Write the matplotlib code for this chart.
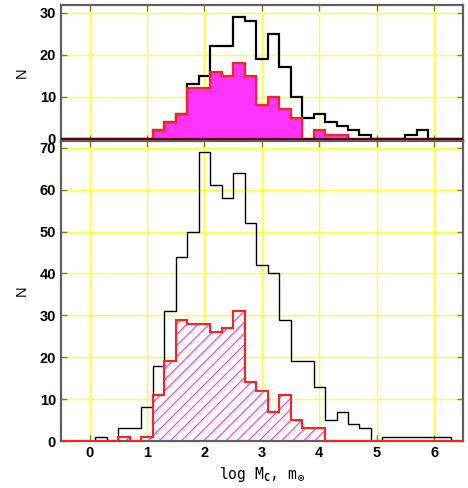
import numpy as np
import matplotlib
matplotlib.use("Agg")
import matplotlib.pyplot as plt
from matplotlib.ticker import MultipleLocator

plt.rcParams.update({
    "font.family": ["Liberation Sans", "DejaVu Sans"],
    "font.weight": "bold",
    "mathtext.fontset": "custom",
    "mathtext.rm": "DejaVu Sans Mono",
    "mathtext.it": "DejaVu Sans Mono",
    "hatch.color": "#ff33ff",
    "hatch.linewidth": 0.8,
})

# bins of 0.2 in log M, left edge of first bin at -0.5
bin_start = -0.5
bin_width = 0.2
n_bins = 35

top_all = [0, 0, 0, 0, 0, 0, 0, 0, 2, 4, 6, 13, 15, 22, 22, 29, 28, 19, 25, 17,
           10, 5, 6, 4, 3, 2, 1, 0, 0, 0, 1, 2, 0, 0, 0]
top_sel = [0, 0, 0, 0, 0, 0, 0, 0, 2, 4, 6, 12, 12, 16, 15, 18, 15, 8, 10, 7,
           5, 0, 2, 1, 1, 0, 0, 0, 0, 0, 0, 0, 0, 0, 0]
bot_all = [0, 0, 0, 1, 0, 3, 3, 8, 18, 31, 44, 50, 69, 61, 58, 64, 52, 42, 40, 29,
           19, 19, 13, 5, 7, 4, 3, 0, 1, 1, 1, 1, 1, 1, 0]
bot_sel = [0, 0, 0, 0, 0, 1, 0, 1, 11, 19, 29, 28, 28, 26, 27, 31, 14, 12, 7, 11,
           5, 3, 3, 0, 0, 0, 0, 0, 0, 0, 0, 0, 0, 0, 0]

edges = bin_start + bin_width * np.arange(n_bins + 1)

MAGENTA = "#ff33ff"
RED = "#ff2020"
GRID = "#ffff33"
SPINE = "#606060"

fig = plt.figure(figsize=(4.68, 4.88), dpi=100)
ax1 = fig.add_axes([0.130, 0.711, 0.859, 0.279])
ax2 = fig.add_axes([0.130, 0.0963, 0.859, 0.6147])


def style(ax):
    ax.set_xlim(-0.5, 6.5)
    ax.xaxis.set_major_locator(MultipleLocator(1))
    ax.yaxis.set_major_locator(MultipleLocator(10))
    ax.grid(True, color=GRID, linewidth=1.0)
    ax.set_axisbelow(True)
    ax.tick_params(direction="in", top=True, right=True, length=4, width=1,
                   color="#888800", labelsize=10.5)
    for s in ax.spines.values():
        s.set_color(SPINE)
        s.set_linewidth(1.6)
    ax.set_ylabel("N", fontsize=10.5, labelpad=8)


# upper panel: solid fill
ax1.stairs(top_sel, edges, fill=True, color=MAGENTA, zorder=2)
ax1.stairs(top_all, edges, color="black", linewidth=1.6, baseline=None, zorder=3)
ax1.stairs(top_sel, edges, color=RED, linewidth=1.6, baseline=None, zorder=4)
ax1.axhline(0, color="#5a0000", linewidth=1.6, zorder=5)
style(ax1)
ax1.set_ylim(-0.55, 31.9)
ax1.tick_params(labelbottom=False)

# lower panel: hatched fill
ax2.stairs(bot_sel, edges, fill=True, facecolor="white", edgecolor=MAGENTA,
           hatch="///", linewidth=0, zorder=2)
ax2.stairs(bot_all, edges, color="black", linewidth=1.0, baseline=None, zorder=3)
ax2.stairs(bot_sel, edges, color=RED, linewidth=1.5, baseline=None, zorder=4)
style(ax2)
ax2.set_ylim(0, 71.6)
ax2.set_xlabel(r"log M$_{\rm C}$, m$_\odot$", family="DejaVu Sans Mono",
               fontweight="normal", fontsize=10.5, labelpad=4)

fig.savefig("out.png", dpi=100)
